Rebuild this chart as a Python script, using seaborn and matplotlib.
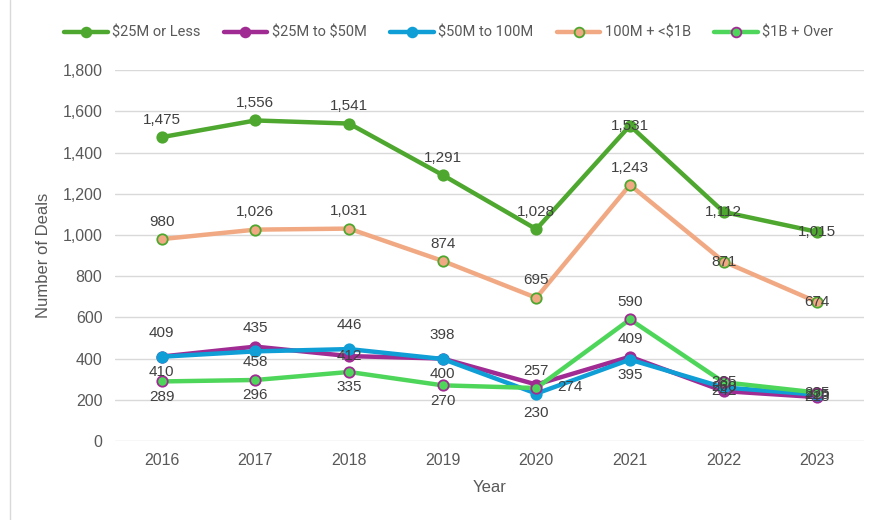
import matplotlib
matplotlib.use("Agg")
import matplotlib.pyplot as plt
from matplotlib.lines import Line2D
import seaborn as sns
import pandas as pd

# data
years = [2016, 2017, 2018, 2019, 2020, 2021, 2022, 2023]
series_names = ["$25M or Less", "$25M to $50M", "$50M to 100M", "100M + <$1B", "$1B + Over"]
deals_25m_or_less = [1475, 1556, 1541, 1291, 1028, 1531, 1112, 1015]
deals_25m_to_50m = [410, 458, 412, 400, 274, 409, 242, 213]
deals_50m_to_100m = [409, 435, 446, 398, 230, 395, 260, 225]
deals_100m_to_1b = [980, 1026, 1031, 874, 695, 1243, 871, 674]
deals_1b_over = [289, 296, 335, 270, 257, 590, 285, 235]

values = [deals_25m_or_less, deals_25m_to_50m, deals_50m_to_100m, deals_100m_to_1b, deals_1b_over]

df = pd.DataFrame({"Year": years * 5,
                   "Deals": sum(values, []),
                   "Series": [n for n in series_names for _ in years]})

# styles
line_colors = ["#4EA72E", "#A02B93", "#0F9ED5", "#F1A983", "#4ED65A"]
edge_colors = ["#4EA72E", "#A02B93", "#0F9ED5", "#4EA72E", "#A02B93"]
# label placement per point: a=above, A=well above, b=below, c=centre, r=right
label_pos = [
    ["a", "a", "a", "a", "a", "c", "c", "c"],
    ["b", "b", "c", "b", "r", "a", "c", "c"],
    ["A", "A", "A", "A", "B", "b", "c", "c"],
    ["a", "a", "a", "a", "a", "a", "c", "c"],
    ["b", "b", "b", "b", "a", "a", "c", "c"],
]
offsets = {"a": (0, 12.5), "A": (0, 17), "b": (0, -11), "B": (0, -14),
           "c": (0, 0), "r": (24, -2)}

sns.set_style("white")
plt.rcParams["font.family"] = ["Liberation Sans", "DejaVu Sans"]
plt.rcParams["text.parse_math"] = False
text_color = "#595959"

fig = plt.figure(figsize=(8.71, 5.2), dpi=100)
ax = fig.add_axes([0.132, 0.152, 0.860, 0.713])

for i, name in enumerate(series_names):
    sub = df[df["Series"] == name]
    sns.lineplot(data=sub, x="Year", y="Deals", ax=ax, color=line_colors[i],
                 linewidth=3.2, marker="o", markersize=7.5,
                 markerfacecolor=line_colors[i], markeredgecolor=edge_colors[i],
                 markeredgewidth=1.3, zorder=3 + i)

for i, vals in enumerate(values):
    for x, v, p in zip(years, vals, label_pos[i]):
        ax.annotate(f"{v:,}", (x, v), xytext=offsets[p], textcoords="offset points",
                    ha="center", va="center", fontsize=11, color="#404040", zorder=10)

ax.set_xlim(2015.5, 2023.5)
ax.set_ylim(0, 1800)
ax.set_yticks(range(0, 1801, 200))
ax.set_yticklabels([f"{t:,}" for t in range(0, 1801, 200)])
ax.set_xticks(years)
ax.yaxis.grid(True, color="#d9d9d9", linewidth=1)
ax.xaxis.grid(False)
sns.despine(ax=ax, left=True, bottom=True)
ax.tick_params(axis="both", length=0, labelsize=11.5, labelcolor=text_color)
ax.tick_params(axis="y", pad=9)
ax.tick_params(axis="x", pad=9)
ax.set_xlabel("Year", fontsize=12, color=text_color, labelpad=8)
ax.set_ylabel("Number of Deals", fontsize=12, color=text_color, labelpad=8)

handles = [Line2D([], [], color=line_colors[i], lw=3.2, marker="o", markersize=7,
                  markerfacecolor=line_colors[i], markeredgecolor=edge_colors[i],
                  markeredgewidth=1.3) for i in range(5)]
fig.legend(handles, series_names, loc="center", bbox_to_anchor=(0.515, 0.937), ncol=5,
           frameon=False, handlelength=3, columnspacing=1.6, handletextpad=0.3,
           prop={"family": "Roboto", "size": 10.5}, labelcolor=text_color)

fig.add_artist(Line2D([0.012, 0.012], [0, 1], color="#d9d9d9", lw=1))

fig.savefig("out.png", dpi=100)
